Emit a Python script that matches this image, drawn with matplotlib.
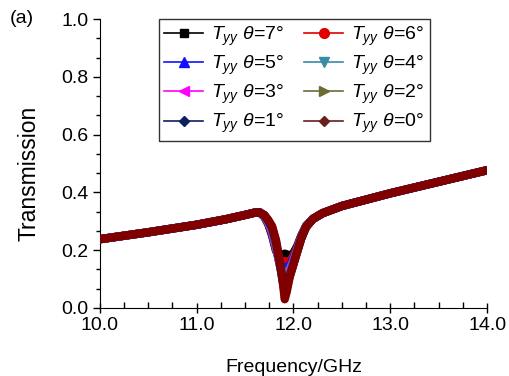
import matplotlib
matplotlib.use("Agg")
import matplotlib.pyplot as plt
from matplotlib.lines import Line2D
from matplotlib.ticker import MultipleLocator, FormatStrFormatter

plt.rcParams['font.family'] = ['Liberation Sans', 'DejaVu Sans']
plt.rcParams['mathtext.fontset'] = 'custom'
plt.rcParams['mathtext.rm'] = 'Liberation Sans'
plt.rcParams['mathtext.it'] = 'Liberation Sans:italic'

# frequency grid (GHz), shared by all curves
freq_left = [10.0, 10.5, 11.0, 11.3, 11.5, 11.6, 11.65]
freq_dip = [11.70, 11.74, 11.78, 11.82, 11.86, 11.89, 11.91, 11.93, 11.96, 12.00, 12.04, 12.08, 12.13]
freq_right = [12.20, 12.30, 12.50, 13.0, 13.5, 14.0]

# transmission away from the resonance (same for every angle)
t_left = [0.238, 0.262, 0.288, 0.307, 0.322, 0.330, 0.331]
t_right = [0.308, 0.328, 0.353, 0.397, 0.437, 0.477]

# transmission around the dip, one list per incidence angle
dip_7 = [0.315, 0.290, 0.250, 0.198, 0.182, 0.185, 0.188, 0.186, 0.180, 0.190, 0.215, 0.250, 0.284]
dip_6 = [0.316, 0.292, 0.254, 0.200, 0.165, 0.160, 0.162, 0.160, 0.160, 0.180, 0.210, 0.247, 0.283]
dip_5 = [0.317, 0.294, 0.258, 0.205, 0.152, 0.140, 0.140, 0.140, 0.145, 0.172, 0.206, 0.245, 0.283]
dip_4 = [0.318, 0.296, 0.263, 0.210, 0.148, 0.122, 0.118, 0.120, 0.132, 0.165, 0.203, 0.243, 0.282]
dip_3 = [0.319, 0.298, 0.267, 0.215, 0.146, 0.105, 0.096, 0.100, 0.122, 0.160, 0.200, 0.242, 0.281]
dip_2 = [0.320, 0.300, 0.272, 0.220, 0.148, 0.095, 0.072, 0.080, 0.113, 0.155, 0.198, 0.241, 0.281]
dip_1 = [0.321, 0.302, 0.277, 0.227, 0.153, 0.090, 0.052, 0.065, 0.108, 0.152, 0.196, 0.240, 0.280]
dip_0 = [0.322, 0.305, 0.283, 0.235, 0.160, 0.090, 0.030, 0.055, 0.105, 0.150, 0.195, 0.240, 0.280]

angles = [7, 6, 5, 4, 3, 2, 1, 0]
dips = [dip_7, dip_6, dip_5, dip_4, dip_3, dip_2, dip_1, dip_0]
colors = ['#000000', '#e00000', '#1010ff', '#3a8aa8', '#ff00ff', '#6b6b35', '#0a2060', '#6a1e1e']
band_colors = ['#000000', '#e00000', '#1010ff', '#3a8aa8', '#ff00ff', '#6b6b35', '#0a2060', '#800000']
markers = ['s', 'o', '^', 'v', '<', '>', 'D', 'D']
msizes = [6, 7, 7, 7, 7, 7, 5, 5]

freq = freq_left + freq_dip + freq_right

fig = plt.figure(figsize=(5.09, 3.76), dpi=100)
ax = fig.add_axes([0.196, 0.181, 0.761, 0.768])

handles = []
for ang, dip, c, bc, m, ms in zip(angles, dips, colors, band_colors, markers, msizes):
    t = t_left + dip + t_right
    ax.plot(freq, t, color=bc, lw=6, solid_capstyle='round', solid_joinstyle='round', zorder=3)
    handles.append(Line2D([], [], color=c, lw=1.2, marker=m, markersize=ms,
                          label=r'$T_{yy}$ $\theta$=%d°' % ang))

ax.set_xlim(10, 14)
ax.set_ylim(0, 1.0)
ax.xaxis.set_major_locator(MultipleLocator(1.0))
ax.xaxis.set_minor_locator(MultipleLocator(0.25))
ax.yaxis.set_major_locator(MultipleLocator(0.2))
ax.yaxis.set_minor_locator(MultipleLocator(0.2 / 3))
ax.xaxis.set_major_formatter(FormatStrFormatter('%.1f'))
ax.yaxis.set_major_formatter(FormatStrFormatter('%.1f'))
for s in ['top', 'right']:
    ax.spines[s].set_visible(False)
ax.tick_params(axis='x', which='major', direction='inout', length=7, width=1, labelsize=14, pad=3)
ax.tick_params(axis='x', which='minor', direction='in', length=4, width=1)
ax.tick_params(axis='y', which='major', direction='out', length=5, width=1, labelsize=14, pad=3)
ax.tick_params(axis='y', which='minor', direction='out', length=3, width=1)

ax.set_xlabel('Frequency/GHz', fontsize=14, labelpad=18)
ax.set_ylabel('Transmission', fontsize=16.5)
ax.yaxis.set_label_coords(-0.152, 0.465)

# legend: row-wise order 7,6 / 5,4 / 3,2 / 1,0
order = [0, 2, 4, 6, 1, 3, 5, 7]
leg = ax.legend([handles[i] for i in order], [handles[i].get_label() for i in order],
                ncol=2, loc='upper left', bbox_to_anchor=(0.152, 1.0), fontsize=14,
                frameon=True, fancybox=False, edgecolor='black', handlelength=2.0,
                columnspacing=1.05, handletextpad=0.4, labelspacing=0.3, borderpad=0.3,
                borderaxespad=0.0)
leg.get_frame().set_linewidth(1.0)
leg.set_zorder(5)

fig.text(0.02, 0.952, '(a)', fontsize=14, va='center')

fig.savefig('out.png', dpi=100)
